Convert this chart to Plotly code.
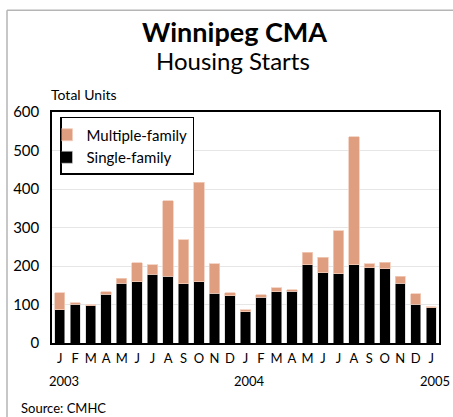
import plotly.graph_objects as go

months = ["J", "F", "M", "A", "M", "J", "J", "A", "S", "O", "N", "D",
          "J", "F", "M", "A", "M", "J", "J", "A", "S", "O", "N", "D", "J"]
single_family = [87, 101, 97, 127, 155, 159, 178, 173, 154, 159, 129, 123,
                 81, 119, 133, 135, 203, 183, 180, 203, 196, 193, 155, 101, 91]
total_units = [131, 104, 99, 133, 168, 208, 203, 369, 268, 418, 206, 130,
               86, 125, 143, 138, 236, 223, 292, 536, 206, 210, 174, 128, 94]
multiple_family = [t - s for t, s in zip(total_units, single_family)]
year_labels = ["2003", "2004", "2005"]
year_positions = [0, 12, 24]
y_ticks = [0, 100, 200, 300, 400, 500, 600]

W, H = 453, 417
L, R, T, B = 52, 439, 112, 343.3


def px2x(px):
    return (px - L) / (R - L)


def px2y(py):
    return (B - py) / (B - T)


FONT = "Lato"
x_idx = list(range(len(months)))

fig = go.Figure()
fig.add_trace(go.Bar(
    x=x_idx, y=single_family, name="Single-family",
    marker=dict(color="#000000", line=dict(color="#cfcfcf", width=0.6)),
))
fig.add_trace(go.Bar(
    x=x_idx, y=multiple_family, name="Multiple-family",
    marker=dict(color="#DF9E7F", line=dict(color="#F2CDBB", width=0.8)),
))

annotations = [
    dict(text="<b>Winnipeg CMA</b>", x=px2x(234), y=px2y(31), xref="paper", yref="paper",
         showarrow=False, font=dict(family=FONT, size=27, color="#000"), xanchor="center", yanchor="middle"),
    dict(text="Housing Starts", x=px2x(233), y=px2y(60), xref="paper", yref="paper",
         showarrow=False, font=dict(family=FONT, size=24, color="#000"), xanchor="center", yanchor="middle"),
    dict(text="Total Units", x=px2x(49), y=px2y(94), xref="paper", yref="paper",
         showarrow=False, font=dict(family=FONT, size=14, color="#000"), xanchor="left", yanchor="middle"),
    dict(text="Source: CMHC", x=px2x(19), y=px2y(408), xref="paper", yref="paper",
         showarrow=False, font=dict(family=FONT, size=13, color="#000"), xanchor="left", yanchor="middle"),
]
for lbl, pos in zip(year_labels, year_positions):
    annotations.append(dict(text=lbl, x=pos, y=px2y(381), xref="x", yref="paper",
                            showarrow=False, font=dict(family=FONT, size=13, color="#000"),
                            xanchor="center", yanchor="middle", xshift=4))

shapes = [
    dict(type="line", xref="paper", yref="paper", x0=px2x(7), x1=px2x(7),
         y0=px2y(420), y1=px2y(10), line=dict(color="#b5b5b5", width=1.5)),
    dict(type="line", xref="paper", yref="paper", x0=px2x(7), x1=px2x(460),
         y0=px2y(10), y1=px2y(10), line=dict(color="#b5b5b5", width=1.5)),
]

fig.update_layout(
    width=W, height=H,
    margin=dict(l=L, r=W - R, t=T, b=H - B, pad=0),
    paper_bgcolor="white", plot_bgcolor="white",
    barmode="stack", bargap=0.33,
    font=dict(family=FONT, size=14, color="#000"),
    showlegend=True,
    legend=dict(x=px2x(60), y=px2y(117), xanchor="left", yanchor="top",
                traceorder="reversed", bgcolor="white", bordercolor="#000", borderwidth=1.5,
                font=dict(family=FONT, size=15), itemwidth=30, tracegroupgap=0,
                indentation=-15),
    annotations=annotations,
    shapes=shapes,
    xaxis=dict(range=[-0.5, len(months) - 0.5], tickmode="array", tickvals=x_idx, ticktext=months,
               showgrid=False, showline=True, linecolor="#000", linewidth=1.5, mirror=True,
               ticks="outside", ticklen=3, tickcolor="rgba(0,0,0,0)",
               tickfont=dict(family=FONT, size=13), zeroline=False, fixedrange=True),
    yaxis=dict(range=[0, 600], tickvals=y_ticks, showgrid=True, gridcolor="#e6e6e6", gridwidth=1.2,
               showline=True, linecolor="#000", linewidth=1.5, mirror=True, ticks="",
               ticklabelstandoff=8, tickfont=dict(family=FONT, size=15), zeroline=False),
)

fig.write_html("out.html", config={"displayModeBar": False},
               post_script="document.body.style.margin='0';document.body.style.overflow='hidden';")
